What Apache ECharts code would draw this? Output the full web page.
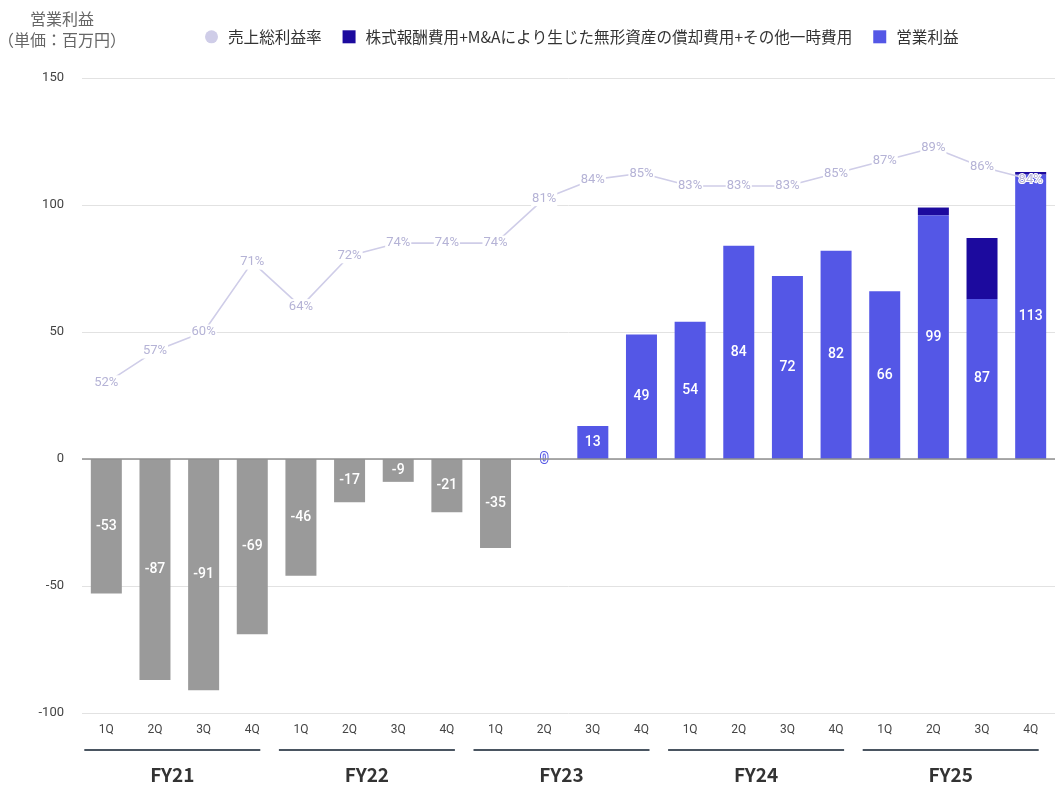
<!DOCTYPE html>
<html>
<head>
<meta charset="utf-8">
<script src="https://cdn.jsdelivr.net/npm/echarts@6/dist/echarts.min.js"></script>
<style>
  html, body { margin: 0; padding: 0; background: #ffffff; }
  #chart { width: 1055px; height: 785px; }
</style>
</head>
<body>
<div id="chart"></div>
<script>
// Quarter labels along the category axis
const quarters = [
  '1Q', '2Q', '3Q', '4Q',
  '1Q', '2Q', '3Q', '4Q',
  '1Q', '2Q', '3Q', '4Q',
  '1Q', '2Q', '3Q', '4Q',
  '1Q', '2Q', '3Q', '4Q'
];
// Fiscal-year groups (four quarters each)
const fiscalYears = ['FY21', 'FY22', 'FY23', 'FY24', 'FY25'];

// 売上総利益率 (%)
const grossMargin = [52, 57, 60, 71, 64, 72, 74, 74, 74, 81, 84, 85, 83, 83, 83, 85, 87, 89, 86, 84];
// 営業利益 (百万円) – labelled value of each column
const operatingProfit = [-53, -87, -91, -69, -46, -17, -9, -21, -35, 0, 13, 49, 54, 84, 72, 82, 66, 99, 87, 113];
// 株式報酬費用+M&Aにより生じた無形資産の償却費用+その他一時費用 (百万円)
const oneTimeCosts = [0, 0, 0, 0, 0, 0, 0, 0, 0, 0, 0, 0, 0, 0, 0, 0, 0, 3, 24, 1];

const yTicks = { min: -100, max: 150, interval: 50 };

const NAME_MARGIN = '売上総利益率';
const NAME_COSTS = '株式報酬費用+M&Aにより生じた無形資産の償却費用+その他一時費用';
const NAME_PROFIT = '営業利益';

const BLUE = '#5457e6';
const NAVY = '#1c0a9e';
const GRAY = '#9a9a9a';
const LAVENDER = '#cfcde8';
const LAVENDER_TEXT = '#b5b3d6';
const JP_FONT = '"Noto Sans CJK JP", "Noto Sans", sans-serif';
const NUM_FONT = 'Roboto, "Noto Sans", sans-serif';

// Column body = labelled profit minus the one-off costs stacked on top
const profitData = operatingProfit.map((v, i) => {
  const body = v - oneTimeCosts[i];
  const c = v < 0 ? GRAY : BLUE;
  return {
    value: body,
    itemStyle: { color: c },
    label: { textBorderColor: c, textBorderWidth: v === 0 ? 2 : 0 }
  };
});

// Margin points: a white plate behind each label breaks the line around the text,
// except where the label sits on top of a column
const marginData = grossMargin.map((v, i) => {
  const onColumn = operatingProfit[i] > 105;
  return onColumn
    ? { value: v, label: { backgroundColor: 'transparent', textBorderColor: '#ffffff', textBorderWidth: 2 } }
    : v;
});

const chart = echarts.init(document.getElementById('chart'), null, { renderer: 'canvas' });

chart.setOption({
  animation: false,
  backgroundColor: '#ffffff',
  textStyle: { fontFamily: JP_FONT },
  graphic: [{
    type: 'text',
    x: 62,
    y: 8,
    style: {
      text: '営業利益\n（単価：百万円）',
      align: 'center',
      verticalAlign: 'top',
      fontSize: 16,
      lineHeight: 21,
      fill: '#666666',
      fontFamily: JP_FONT
    }
  }],
  legend: {
    top: 24,
    left: 200,
    itemGap: 21,
    itemWidth: 13,
    itemHeight: 13,
    textStyle: { fontSize: 15.6, color: '#333333', fontFamily: JP_FONT, padding: [0, 0, 0, 5] },
    data: [
      { name: NAME_MARGIN, icon: 'circle' },
      { name: NAME_COSTS, icon: 'rect' },
      { name: NAME_PROFIT, icon: 'rect' }
    ]
  },
  grid: { left: 82, top: 78, width: 980, height: 635 },
  xAxis: [
    {
      type: 'category',
      data: quarters,
      position: 'bottom',
      axisLine: { show: false },
      axisTick: { show: false },
      axisLabel: { color: '#444444', fontSize: 12, margin: 11, fontFamily: NUM_FONT }
    },
    {
      type: 'category',
      data: fiscalYears,
      position: 'bottom',
      axisLine: { show: false },
      axisTick: { show: false },
      axisLabel: {
        margin: 36,
        padding: [0, 14, 0, 0],
        formatter: (name) => '{line| }\n{fy|' + name + '}',
        rich: {
          line: { width: 176, height: 2, lineHeight: 2, backgroundColor: '#4a5561', fontSize: 1 },
          fy: { fontSize: 19, fontWeight: 'bold', color: '#333333', lineHeight: 48, fontFamily: JP_FONT }
        }
      }
    }
  ],
  yAxis: [
    {
      type: 'value',
      min: yTicks.min,
      max: yTicks.max,
      interval: yTicks.interval,
      axisLine: { show: false },
      axisTick: { show: false },
      axisLabel: { color: '#444444', fontSize: 13, margin: 18, fontFamily: NUM_FONT },
      splitLine: { lineStyle: { color: '#e2e2e2', width: 1 } }
    },
    {
      type: 'value',
      min: 0,
      max: 100,
      show: false,
      splitLine: { show: false }
    }
  ],
  series: [
    {
      name: NAME_PROFIT,
      type: 'bar',
      stack: 'profit',
      barWidth: 31,
      itemStyle: { color: BLUE },
      data: profitData,
      label: {
        show: true,
        position: 'inside',
        color: '#ffffff',
        fontSize: 14,
        fontWeight: 500,
        fontFamily: NUM_FONT,
        formatter: (p) => String(operatingProfit[p.dataIndex])
      },
      markLine: {
        silent: true,
        symbol: 'none',
        label: { show: false },
        lineStyle: { color: '#8f8f8f', width: 1.5, type: 'solid' },
        data: [{ yAxis: 0 }]
      },
      z: 2
    },
    {
      name: NAME_COSTS,
      type: 'bar',
      stack: 'profit',
      barWidth: 31,
      itemStyle: { color: NAVY },
      data: oneTimeCosts,
      z: 2
    },
    {
      name: NAME_MARGIN,
      type: 'line',
      yAxisIndex: 1,
      data: marginData,
      symbol: 'circle',
      symbolSize: 1,
      itemStyle: { color: LAVENDER },
      lineStyle: { color: LAVENDER, width: 1.6 },
      label: {
        show: true,
        position: 'inside',
        formatter: '{c}%',
        color: LAVENDER_TEXT,
        fontSize: 13,
        fontFamily: NUM_FONT,
        backgroundColor: '#ffffff',
        padding: [1, 1]
      },
      z: 5
    }
  ]
});
</script>
</body>
</html>
